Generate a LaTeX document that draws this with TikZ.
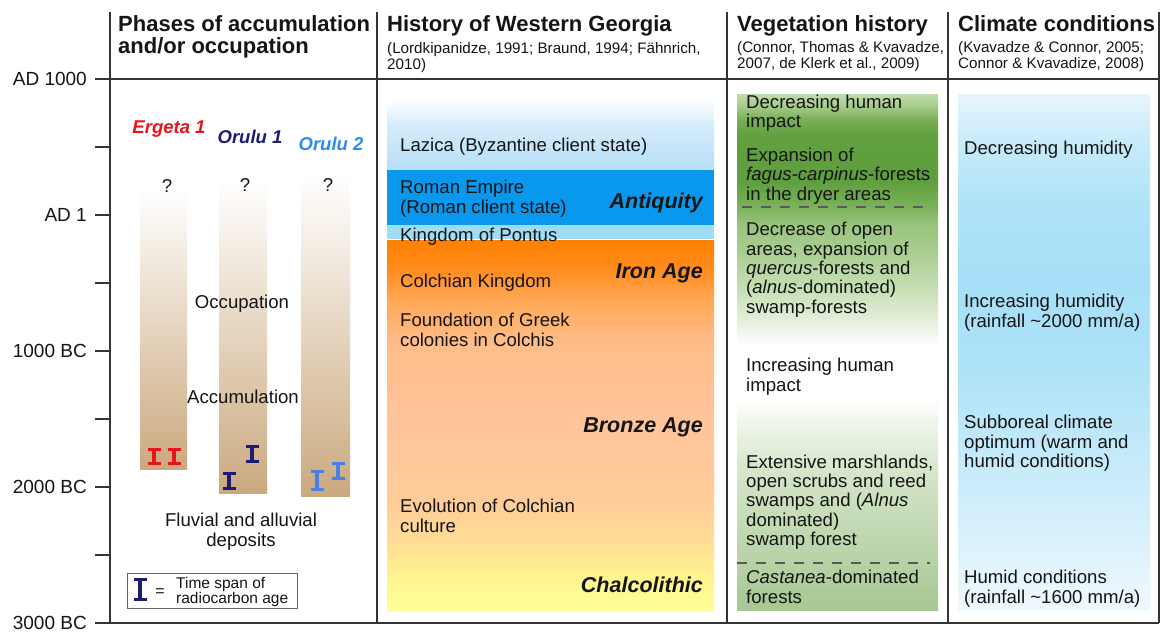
\documentclass[tikz,border=0pt]{standalone}
\usepackage{fontspec}
\setmainfont{Liberation Sans}
\definecolor{linegray}{HTML}{333333}
\definecolor{txt}{HTML}{151515}
\definecolor{antblue}{HTML}{0A98EE}
\definecolor{pontcyan}{HTML}{A0DCF4}
\definecolor{ergred}{HTML}{E8141C}
\definecolor{orunavy}{HTML}{1C1C78}
\definecolor{orublue}{HTML}{2E8BEF}
\definecolor{ibeamblue}{HTML}{4A7FE8}
\definecolor{tanmid}{HTML}{E4D0B6}
\definecolor{tanbot}{HTML}{CBA97F}
% col 2 top (light blue)
\definecolor{la0}{HTML}{B5DEF7}
\definecolor{la1}{HTML}{D5ECFB}
\definecolor{la2}{HTML}{FFFFFF}
\pgfdeclareverticalshading{lazshade}{327pt}{color(0pt)=(la0); color(45pt)=(la1); color(70pt)=(la2)}
% col 2 orange to yellow
\definecolor{o0}{HTML}{FFFF99}
\definecolor{o1}{HTML}{FFF58F}
\definecolor{o2}{HTML}{FFDC96}
\definecolor{o3}{HTML}{FFCC99}
\definecolor{o4}{HTML}{FFC49A}
\definecolor{o5}{HTML}{FFBC88}
\definecolor{o6}{HTML}{FFA855}
\definecolor{o7}{HTML}{FF8C1E}
\definecolor{o8}{HTML}{FF8000}
\pgfdeclareverticalshading{orshade}{327pt}{color(0pt)=(o0); color(31pt)=(o1); color(71pt)=(o2); color(111pt)=(o3); color(191pt)=(o4); color(271pt)=(o5); color(311pt)=(o6); color(341pt)=(o7); color(372pt)=(o8)}
% col 3 green
\definecolor{g0}{HTML}{A7C793}
\definecolor{g1}{HTML}{B8D2A6}
\definecolor{g2}{HTML}{D2E3C6}
\definecolor{g3}{HTML}{F0F6EC}
\definecolor{g4}{HTML}{FFFFFF}
\definecolor{g5}{HTML}{E5EFDC}
\definecolor{g6}{HTML}{C8DFB6}
\definecolor{g7}{HTML}{A8CD90}
\definecolor{g8}{HTML}{98C47E}
\definecolor{g9}{HTML}{78B058}
\definecolor{g10}{HTML}{5E9E3C}
\definecolor{g11}{HTML}{62A040}
\definecolor{g12}{HTML}{78AE56}
\definecolor{g13}{HTML}{A9CD90}
\definecolor{g14}{HTML}{C2DDAE}
\pgfdeclareverticalshading{vegshade}{201pt}{color(0pt)=(g0); color(50pt)=(g1); color(130pt)=(g2); color(190pt)=(g3); color(210pt)=(g4); color(265pt)=(g4); color(290pt)=(g5); color(320pt)=(g6); color(360pt)=(g7); color(385pt)=(g8); color(405pt)=(g9); color(430pt)=(g10); color(475pt)=(g11); color(490pt)=(g12); color(505pt)=(g13); color(517pt)=(g14)}
% col 4 blue
\definecolor{b0}{HTML}{F0F9FE}
\definecolor{b1}{HTML}{DDF2FC}
\definecolor{b2}{HTML}{C5EAFA}
\definecolor{b3}{HTML}{ADE2F8}
\definecolor{b4}{HTML}{A6DFF7}
\definecolor{b5}{HTML}{AEE2F8}
\definecolor{b6}{HTML}{C8EBFA}
\definecolor{b7}{HTML}{E8F6FD}
\pgfdeclareverticalshading{climshade}{192pt}{color(0pt)=(b0); color(60pt)=(b1); color(150pt)=(b2); color(250pt)=(b3); color(330pt)=(b4); color(400pt)=(b5); color(470pt)=(b6); color(517pt)=(b7)}
\newcommand\ibeamat[4]{\draw[ibeam,draw=#4] (#1-6.5,#2+1.75) -- (#1+6.5,#2+1.75) (#1,#2) -- (#1,#3) (#1-6.5,#3-1.75) -- (#1+6.5,#3-1.75);}
\begin{document}
\begin{tikzpicture}[x=1pt,y=-1pt,
  frame/.style={draw=linegray, line width=1.8pt},
  body/.style={font=\fontsize{18.6}{19.3}\selectfont, text=txt, inner sep=0pt, align=left, anchor=base west},
  bodyc/.style={font=\fontsize{18.6}{19.3}\selectfont, text=txt, inner sep=0pt, align=center, anchor=base},
  head/.style={font=\fontsize{22}{22}\selectfont\bfseries, text=txt, inner sep=0pt, align=left, anchor=base west},
  cite/.style={font=\fontsize{15.2}{16}\selectfont, text=txt, inner sep=0pt, align=left, anchor=base west},
  period/.style={font=\fontsize{21.5}{22}\selectfont\bfseries\itshape, text=txt, inner sep=0pt, anchor=base east},
  site/.style={font=\fontsize{18.5}{19}\selectfont\bfseries\itshape, inner sep=0pt, anchor=base},
  ticklabel/.style={font=\fontsize{19}{19}\selectfont, text=txt, inner sep=0pt, anchor=east},
  ibeam/.style={line width=3.4pt, line cap=butt},
  dashline/.style={draw=black!65, line width=1.2pt, dash pattern=on 10pt off 9pt},
  shadebox/.style={inner sep=0pt, outer sep=0pt, anchor=north west}
]
\useasboundingbox (0,0) rectangle (1161,633);
\fill[white] (0,0) rectangle (1161,633);

% ---------- column 2 colour boxes
\node[shadebox] (lazbox) at (387,100) {\pgfuseshading{lazshade}};
\fill[antblue] (387,170) rectangle (714,225);
\fill[pontcyan] (387,225) rectangle (714,239);
\node[shadebox] (orbox) at (387,239) {\pgfuseshading{orshade}};

% ---------- column 3 and 4 colour boxes
\node[shadebox] (vegbox) at (737,93) {\pgfuseshading{vegshade}};
\node[shadebox] (climbox) at (958,93) {\pgfuseshading{climshade}};

% ---------- column 1 bars
\shade[top color=white, middle color=tanmid, bottom color=tanbot] (140,190) rectangle (187,469);
\shade[top color=white, middle color=tanmid, bottom color=tanbot] (219,180) rectangle (267,493);
\shade[top color=white, middle color=tanmid, bottom color=tanbot] (301,175) rectangle (350,496);

% ---------- frame lines
\draw[frame] (110,12) -- (110,623);
\draw[frame] (377,12) -- (377,623);
\draw[frame] (727,12) -- (727,623);
\draw[frame] (948,12) -- (948,623);
\draw[frame] (1159,12) -- (1159,623);
\draw[frame] (95,79) -- (1159,79);
\draw[frame] (95,623) -- (1159,623);
\foreach \yy in {147,215,283,351,419,487,555} {\draw[frame] (95,\yy) -- (110,\yy);}

% ---------- tick labels
\node[ticklabel] (t1000ad) at (87,79) {AD 1000};
\node[ticklabel] (t1ad) at (87,215) {AD 1};
\node[ticklabel] (t1000bc) at (87,351) {1000 BC};
\node[ticklabel] (t2000bc) at (87,487) {2000 BC};
\node[ticklabel] (t3000bc) at (87,623) {3000 BC};

% ---------- headers (multi-line nodes: anchor at last baseline)
\node[head] (h1) at (118,53) {Phases of accumulation\\and/or occupation};
\node[head] (h2) at (387,31) {History of Western Georgia};
\node[cite] (c2) at (387,69) {(Lordkipanidze, 1991; Braund, 1994; Fähnrich,\\2010)};
\node[head] (h3) at (737,31) {Vegetation history};
\node[cite] (c3) at (737,68) {(Connor, Thomas \& Kvavadze,\\2007, de Klerk et al., 2009)};
\node[head] (h4) at (958,31) {Climate conditions};
\node[cite] (c4) at (958,68) {(Kvavadze \& Connor, 2005;\\Connor \& Kvavadize, 2008)};

% ---------- column 1 texts
\node[site, text=ergred] (erg) at (169,133) {Ergeta 1};
\node[site, text=orunavy] (oru1) at (250,143) {Orulu 1};
\node[site, text=orublue] (oru2) at (331,150) {Orulu 2};
\node[bodyc] (q1) at (167,192) {?};
\node[bodyc] (q2) at (245,191) {?};
\node[bodyc] (q3) at (328,191) {?};
\node[bodyc] (occ) at (242,308) {Occupation};
\node[bodyc] (acc) at (243,403) {Accumulation};
\node[bodyc] (fluv) at (241,546) {Fluvial and alluvial\\deposits};

\ibeamat{154}{448}{465}{ergred}
\ibeamat{174}{448}{465}{ergred}
\ibeamat{229}{472}{490}{orunavy}
\ibeamat{252}{445}{463}{orunavy}
\ibeamat{317}{470}{491}{ibeamblue}
\ibeamat{338}{462}{480}{ibeamblue}

% legend
\draw[draw=black!60, line width=0.8pt, fill=white] (127,573) rectangle (297,608);
\ibeamat{140}{578}{601}{orunavy}
\node[font=\fontsize{16}{16}\selectfont, text=txt, inner sep=0pt, anchor=base] (eq) at (160,596) {=};
\node[font=\fontsize{15.5}{15}\selectfont, text=txt, inner sep=0pt, align=left, anchor=base west] (leg) at (176,603) {Time span of\\radiocarbon age};

% ---------- column 2 texts
\node[body] (laz) at (400,151) {Lazica (Byzantine client state)};
\node[body] (rom) at (400,213) {Roman Empire\\(Roman client state)};
\node[body] (pont) at (400,241) {Kingdom of Pontus};
\node[body] (colk) at (400,287) {Colchian Kingdom};
\node[body] (greek) at (400,346) {Foundation of Greek\\colonies in Colchis};
\node[body] (evol) at (400,532) {Evolution of Colchian\\culture};
\node[period] (antiq) at (703,208) {Antiquity};
\node[period] (iron) at (703,278) {Iron Age};
\node[period] (bronze) at (703,432) {Bronze Age};
\node[period] (chalco) at (703,592) {Chalcolithic};

% ---------- column 3 texts
\node[body] (v1) at (746,127.5) {Decreasing human\\impact};
\node[body] (v2) at (746,200) {Expansion of\\\textit{fagus-carpinus}-forests\\in the dryer areas};
\draw[dashline] (742,207) -- (931,207);
\node[body] (v3) at (746,313) {Decrease of open\\areas, expansion of\\\textit{quercus}-forests and\\(\textit{alnus}-dominated)\\swamp-forests};
\node[body] (v4) at (746,391) {Increasing human\\impact};
\node[body] (v5) at (746,545.5) {Extensive marshlands,\\open scrubs and reed\\swamps and (\textit{Alnus}\\dominated)\\swamp forest};
\draw[dashline] (737,563) -- (930,563);
\node[body] (v6) at (746,603) {\textit{Castanea}-dominated\\forests};

% ---------- column 4 texts
\node[body] (k1) at (964,154) {Decreasing humidity};
\node[body] (k2) at (964,327) {Increasing humidity\\(rainfall \textasciitilde 2000 mm/a)};
\node[body] (k3) at (964,467.5) {Subboreal climate\\optimum (warm and\\humid conditions)};
\node[body] (k4) at (964,603) {Humid conditions\\(rainfall \textasciitilde 1600 mm/a)};
\end{tikzpicture}
\end{document}
